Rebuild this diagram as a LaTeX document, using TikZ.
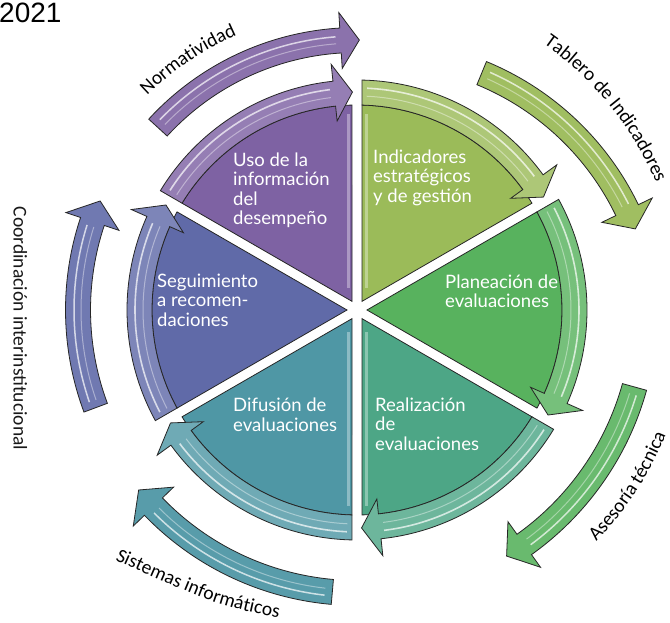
\documentclass[tikz,border=0pt]{standalone}
\usepackage{fontspec}
\setmainfont{Lato}
\newfontfamily\carlitofam{Carlito}
\newfontfamily\arialfam{Liberation Sans}
\usetikzlibrary{decorations.text}
\definecolor{cPur}{RGB}{126,98,163}
\definecolor{cOli}{RGB}{155,187,89}
\definecolor{cGrn}{RGB}{88,178,94}
\definecolor{cTgr}{RGB}{77,166,134}
\definecolor{cTea}{RGB}{79,151,165}
\definecolor{cBlu}{RGB}{96,106,168}
\newcommand{\outerfnt}{\carlitofam\fontsize{19.5}{20}\selectfont}
\newcommand{\firstln}{\rule{0pt}{15pt}}
% one wheel sector: body wedge + clockwise arrow band
\newcommand{\wheelsector}[2]{%
  \pgfmathsetmacro{\wsS}{#1}%
  \pgfmathsetmacro{\wsE}{#1-60}%
  \pgfmathsetmacro{\wsM}{#1-30}%
  \pgfmathsetmacro{\wsSa}{#1-1.4}%
  \pgfmathsetmacro{\wsSb}{#1-1.25}%
  \pgfmathsetmacro{\wsEa}{#1-60+1.4}%
  \pgfmathsetmacro{\wsHb}{#1-60+6}%
  \pgfmathsetmacro{\wsTp}{#1-60+1.2}%
  \pgfmathsetmacro{\wsLa}{#1-2.6}%
  \pgfmathsetmacro{\wsLb}{#1-60+7}%
  \fill[#2, draw=black!85, line width=0.8] (\wsM:10) -- (\wsSa:205)
     arc[start angle=\wsSa, end angle=\wsEa, radius=205] -- cycle;
  \fill[#2!82!white, draw=black!85, line width=0.8] (\wsSa:205) -- (\wsSb:230)
     arc[start angle=\wsSb, end angle=\wsHb, radius=230] -- (\wsHb:247)
     -- (\wsTp:218) -- (\wsHb:190) -- (\wsHb:205)
     arc[start angle=\wsHb, end angle=\wsSa, radius=205] -- cycle;
  \draw[white, opacity=0.7, line width=1.6] (\wsLa:222) arc[start angle=\wsLa, end angle=\wsLb, radius=222];
  \draw[white, opacity=0.4, line width=1] (\wsLa:214) arc[start angle=\wsLa, end angle=\wsLb, radius=214];
}
% one outer arrow: #1 centre, #2 mid radius, #3 tail angle, #4 head base angle, #5 tip angle, #6 colour
\newcommand{\outerarrow}[6]{%
  \begin{scope}[shift={#1}]
  \pgfmathsetmacro{\oaRi}{#2-12.5}%
  \pgfmathsetmacro{\oaRo}{#2+12.5}%
  \pgfmathsetmacro{\oaHi}{#2-28}%
  \pgfmathsetmacro{\oaHo}{#2+28}%
  \pgfmathsetmacro{\oaSa}{#2+4}%
  \pgfmathsetmacro{\oaSb}{#2-3}%
  \pgfmathsetmacro{\oaTa}{#3-1.5}%
  \pgfmathsetmacro{\oaBa}{#4+1}%
  \fill[#6, draw=black!85, line width=0.8] (#3:\oaRi) -- (#3:\oaRo)
     arc[start angle=#3, end angle=#4, radius=\oaRo] -- (#4:\oaHo)
     -- (#5:#2) -- (#4:\oaHi) -- (#4:\oaRi)
     arc[start angle=#4, end angle=#3, radius=\oaRi] -- cycle;
  \draw[white, opacity=0.7, line width=1.5] (\oaTa:\oaSa) arc[start angle=\oaTa, end angle=\oaBa, radius=\oaSa];
  \draw[white, opacity=0.4, line width=1] (\oaTa:\oaSb) arc[start angle=\oaTa, end angle=\oaBa, radius=\oaSb];
  \end{scope}
}
\tikzset{
  intext/.style={text=white, font=\fontsize{18.5}{19.5}\selectfont, align=left, inner sep=0, anchor=north west},
  outtext/.style={text=black!90, font=\outerfnt, inner sep=0},
  gloss/.style={white, opacity=0.35, line width=3}
}
\begin{document}
\begin{tikzpicture}[x=1pt,y=1pt]
\useasboundingbox (0,0) rectangle (670,622);
\fill[white] (0,0) rectangle (670,622);
\coordinate (C) at (357,312);

% wheel
\begin{scope}[shift={(C)}]
  \wheelsector{150}{cPur}
  \wheelsector{90}{cOli}
  \wheelsector{30}{cGrn}
  \wheelsector{-30}{cTgr}
  \wheelsector{-90}{cTea}
  \wheelsector{210}{cBlu}
  \draw[gloss] (-9,22) -- (-9,196);
  \draw[gloss] (9,22) -- (9,196);
  \draw[gloss] (-9,-22) -- (-9,-196);
  \draw[gloss] (9,-22) -- (9,-196);
\end{scope}

% outer arrows
\outerarrow{(357,312)}{270}{137.5}{93.5}{89.5}{cPur!90!white}
\outerarrow{(375,290)}{280}{67.6}{25.8}{21.6}{cOli!95!white}
\outerarrow{(357,312)}{288}{-15.5}{-54.5}{-58.7}{cGrn!90!white}
\outerarrow{(357,312)}{283}{265}{224}{219.5}{cTea!95!white}
\outerarrow{(357,312)}{279}{200.5}{161.5}{157}{cBlu!90!white}

% inner labels
\node[intext] (uso) at (233,471) {\firstln Uso de la\\información\\del\\desempeño};
\node[intext] (ind) at (373,474) {\firstln Indicadores\\estratégicos\\y de gestión};
\node[intext] (pla) at (445,349) {\firstln Planeación de\\evaluaciones};
\node[intext] (rea) at (375,226) {\firstln Realización\\de\\evaluaciones};
\node[intext] (dif) at (233,225.5) {\firstln Difusión de\\evaluaciones};
\node[intext] (seg) at (157,350) {\firstln Seguimiento\\a recomen-\\daciones};

% outer labels
\begin{scope}[shift={(C)}]
  \path[decorate, decoration={text along path, text={|\outerfnt|Normatividad}, text align=center}]
    (140:300) arc[start angle=140, end angle=108, radius=300];
  \path[decorate, decoration={text along path, text={|\outerfnt|Tablero de Indicadores}, text align=center}]
    (60:325) arc[start angle=60, end angle=18, radius=325];
  \path[decorate, decoration={text along path, text={|\outerfnt|Asesoría técnica}, text align=center}]
    (-50:333) arc[start angle=-50, end angle=-16, radius=333];
\end{scope}
\path[decorate, decoration={text along path, text={|\outerfnt|Sistemas informáticos}, text align=left}]
  (115,62) .. controls (218.7,16) .. (290,2);
\node[outtext, rotate=-90, anchor=base] (coord) at (13.5,293.5) {Coordinación interinstitucional};

\node[anchor=base west, inner sep=0, font=\arialfam\fontsize{28}{28}\selectfont] (yr) at (-1,599) {2021};
\end{tikzpicture}
\end{document}
